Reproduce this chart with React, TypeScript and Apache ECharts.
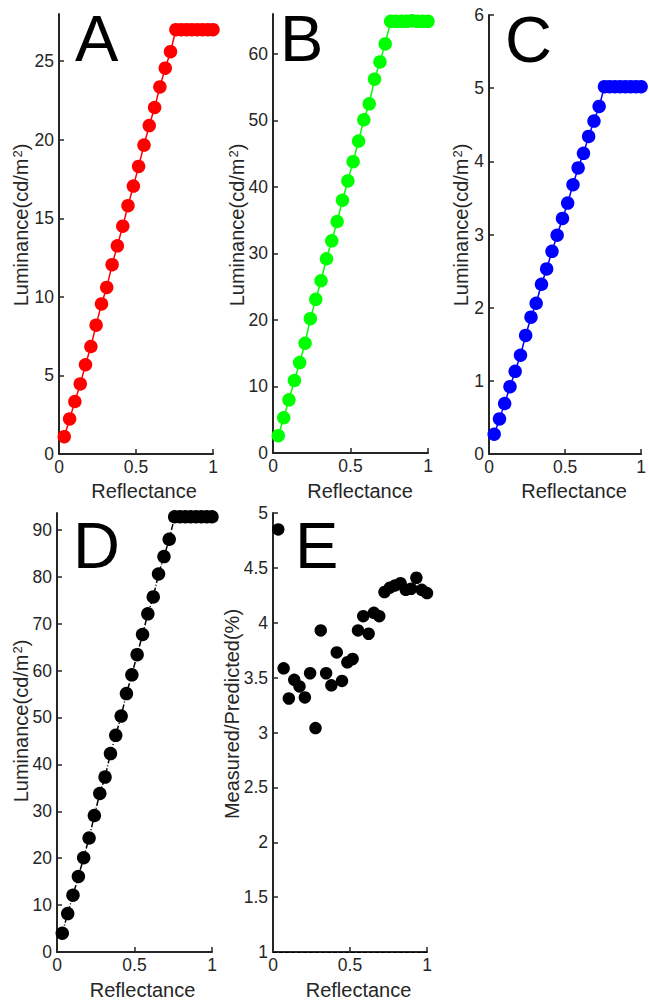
import React, { useEffect, useRef } from "react";
import * as echarts from "echarts";

// ---- data ----
const reflectance = [
  0.034, 0.069, 0.103, 0.138, 0.172, 0.207, 0.241, 0.276, 0.31, 0.345,
  0.379, 0.414, 0.448, 0.483, 0.517, 0.552, 0.586, 0.621, 0.655, 0.69,
  0.724, 0.759, 0.793, 0.828, 0.862, 0.897, 0.931, 0.966, 1.0,
];
const redLuminance = [
  1.1, 2.23, 3.34, 4.46, 5.68, 6.84, 8.2, 9.55, 10.6, 12.05,
  13.25, 14.5, 15.8, 17.05, 18.3, 19.66, 20.9, 22.05, 23.36, 24.55,
  25.6, 27.0, 27.0, 27.0, 27.0, 27.0, 27.0, 27.0, 27.0,
];
const greenLuminance = [
  2.6, 5.3, 8.0, 10.9, 13.6, 16.5, 20.2, 23.1, 25.9, 29.2,
  31.9, 34.8, 38.0, 40.9, 43.8, 46.9, 50.1, 52.5, 56.2, 58.8,
  61.5, 64.9, 64.9, 64.9, 64.9, 65.0, 64.9, 64.9, 64.9,
];
const blueLuminance = [
  0.27, 0.48, 0.69, 0.92, 1.13, 1.35, 1.62, 1.87, 2.06, 2.32,
  2.53, 2.77, 2.99, 3.22, 3.43, 3.68, 3.91, 4.11, 4.34, 4.55,
  4.75, 5.02, 5.02, 5.02, 5.02, 5.02, 5.02, 5.02, 5.02,
];
const blackLuminance = [
  4.0, 8.2, 12.1, 16.1, 20.1, 24.3, 29.1, 33.8, 37.3, 42.3,
  46.2, 50.3, 55.1, 59.1, 63.4, 67.7, 72.1, 75.7, 80.6, 84.3,
  88.0, 92.8, 92.8, 92.8, 92.8, 92.8, 92.8, 92.8, 92.8,
];
const measuredPredicted = [
  4.85, 3.585, 3.31, 3.48, 3.42, 3.32, 3.54, 3.04, 3.93, 3.54,
  3.43, 3.73, 3.47, 3.64, 3.67, 3.93, 4.06, 3.9, 4.09, 4.06,
  4.28, 4.32, 4.34, 4.36, 4.3, 4.31, 4.41, 4.3, 4.27,
];

const xTicks = [0, 0.5, 1];
const redTicks = [0, 5, 10, 15, 20, 25];
const greenTicks = [0, 10, 20, 30, 40, 50, 60];
const blueTicks = [0, 1, 2, 3, 4, 5, 6];
const blackTicks = [0, 10, 20, 30, 40, 50, 60, 70, 80, 90];
const ratioTicks = [1, 1.5, 2, 2.5, 3, 3.5, 4, 4.5, 5];
const ratioReference = 1;

const panelLetters = ["A", "B", "C", "D", "E"];
const xName = "Reflectance";
const luminanceName = "{n|Luminance(cd/m}{s|2}{n|)}";
const ratioName = "{n|Measured/Predicted(%)}";

// ---- styling ----
const FONT = "'Liberation Sans', Arial, Helvetica, sans-serif";
const AXIS = "#262626";

const panels = [
  { grid: { left: 59, top: 14, width: 154, height: 440 }, yMin: 0, yMax: 28, yTicks: redTicks, values: redLuminance, color: "#ff0000", kind: "line", lineType: "solid" as any },
  { grid: { left: 273, top: 14, width: 155, height: 439 }, yMin: 0, yMax: 66, yTicks: greenTicks, values: greenLuminance, color: "#00ff00", kind: "line", lineType: "solid" as any },
  { grid: { left: 489, top: 15, width: 154, height: 439 }, yMin: 0, yMax: 6, yTicks: blueTicks, values: blueLuminance, color: "#0000ff", kind: "line", lineType: "solid" as any },
  { grid: { left: 57, top: 513, width: 155, height: 439 }, yMin: 0, yMax: 93.6, yTicks: blackTicks, values: blackLuminance, color: "#000000", kind: "line", lineType: [6, 2, 1, 2] as any },
  { grid: { left: 273, top: 513, width: 154, height: 439 }, yMin: 1, yMax: 5, yTicks: ratioTicks, values: measuredPredicted, color: "#000000", kind: "scatter", lineType: "solid" as any },
];

const letterPos = [
  { x: 75, y: 38 },
  { x: 280, y: 38 },
  { x: 505, y: 39 },
  { x: 73, y: 545 },
  { x: 295, y: 545 },
];
const xNamePos = [
  { x: 144, y: 490.5 },
  { x: 360, y: 490.5 },
  { x: 574, y: 490.5 },
  { x: 142.5, y: 989.5 },
  { x: 358.5, y: 989.5 },
];
const yNamePos = [
  { x: 21, y: 225 },
  { x: 237, y: 225 },
  { x: 461, y: 225 },
  { x: 21, y: 721 },
  { x: 232, y: 714 },
];

export default function App() {
  const ref = useRef<HTMLDivElement>(null);

  useEffect(() => {
    if (!ref.current) return;
    const chart = echarts.init(ref.current, undefined, { renderer: "svg" });

    const grid = panels.map((p) => ({ ...p.grid, containLabel: false }));

    const xAxis = panels.map((p, i) => ({
      type: "value",
      gridIndex: i,
      min: 0,
      max: 1,
      axisLine: { show: true, onZero: false, lineStyle: { color: AXIS, width: 2 } },
      axisTick: { show: true, inside: true, length: 5, customValues: xTicks, lineStyle: { color: AXIS, width: 1.5 } },
      axisLabel: { show: true, customValues: xTicks, margin: 4, fontSize: 17.5, color: AXIS, fontFamily: FONT },
      splitLine: { show: false },
    }));

    const yAxis = panels.map((p, i) => ({
      type: "value",
      gridIndex: i,
      min: p.yMin,
      max: p.yMax,
      axisLine: { show: true, onZero: false, lineStyle: { color: AXIS, width: 2 } },
      axisTick: { show: true, inside: true, length: 5, customValues: p.yTicks, lineStyle: { color: AXIS, width: 1.5 } },
      axisLabel: { show: true, customValues: p.yTicks, margin: 5, fontSize: 17.5, color: AXIS, fontFamily: FONT },
      splitLine: { show: false },
    }));

    const series: any[] = panels.map((p, i) => {
      const data = reflectance.map((r, k) => [r, p.values[k]]);
      if (p.kind === "scatter") {
        return {
          type: "scatter",
          xAxisIndex: i,
          yAxisIndex: i,
          data,
          symbol: "circle",
          symbolSize: 12.5,
          itemStyle: { color: p.color, opacity: 1 },
          clip: false,
          z: 3,
          markLine: {
            silent: true,
            symbol: "none",
            label: { show: false },
            lineStyle: { color: "#000000", type: "dashed", width: 1, opacity: 1 },
            data: [{ yAxis: ratioReference }],
          },
        };
      }
      return {
        type: "line",
        xAxisIndex: i,
        yAxisIndex: i,
        data,
        symbol: "circle",
        symbolSize: 13.5,
        showAllSymbol: true,
        itemStyle: { color: p.color, opacity: 1 },
        lineStyle: { color: p.color, width: 1.5, type: p.lineType },
        clip: false,
      };
    });

    const rich = {
      n: { fontSize: 20, fontFamily: FONT, fill: AXIS, color: AXIS },
      s: { fontSize: 13, fontFamily: FONT, color: AXIS, verticalAlign: "top", padding: [0, 0, 0, 1] },
    };

    const graphic: any[] = [];
    panelLetters.forEach((t, i) => {
      graphic.push({
        type: "text",
        x: letterPos[i].x,
        y: letterPos[i].y,
        silent: true,
        style: { text: t, fontSize: 65, fontFamily: FONT, fill: "#000000", align: "left", verticalAlign: "middle" },
      });
      graphic.push({
        type: "text",
        x: xNamePos[i].x,
        y: xNamePos[i].y,
        silent: true,
        style: { text: xName, fontSize: 20, fontFamily: FONT, fill: AXIS, align: "center", verticalAlign: "middle" },
      });
      graphic.push({
        type: "text",
        x: yNamePos[i].x,
        y: yNamePos[i].y,
        rotation: Math.PI / 2,
        silent: true,
        style: { text: i === 4 ? ratioName : luminanceName, rich, fontSize: 20, fontFamily: FONT, fill: AXIS, align: "center", verticalAlign: "middle" },
      });
    });

    chart.setOption({
      animation: false,
      backgroundColor: "#ffffff",
      grid,
      xAxis,
      yAxis,
      series,
      graphic,
    } as any);

    return () => chart.dispose();
  }, []);

  return (
    <div
      ref={ref}
      style={{ position: "absolute", left: 0, top: 0, width: 649, height: 1000 }}
    />
  );
}
